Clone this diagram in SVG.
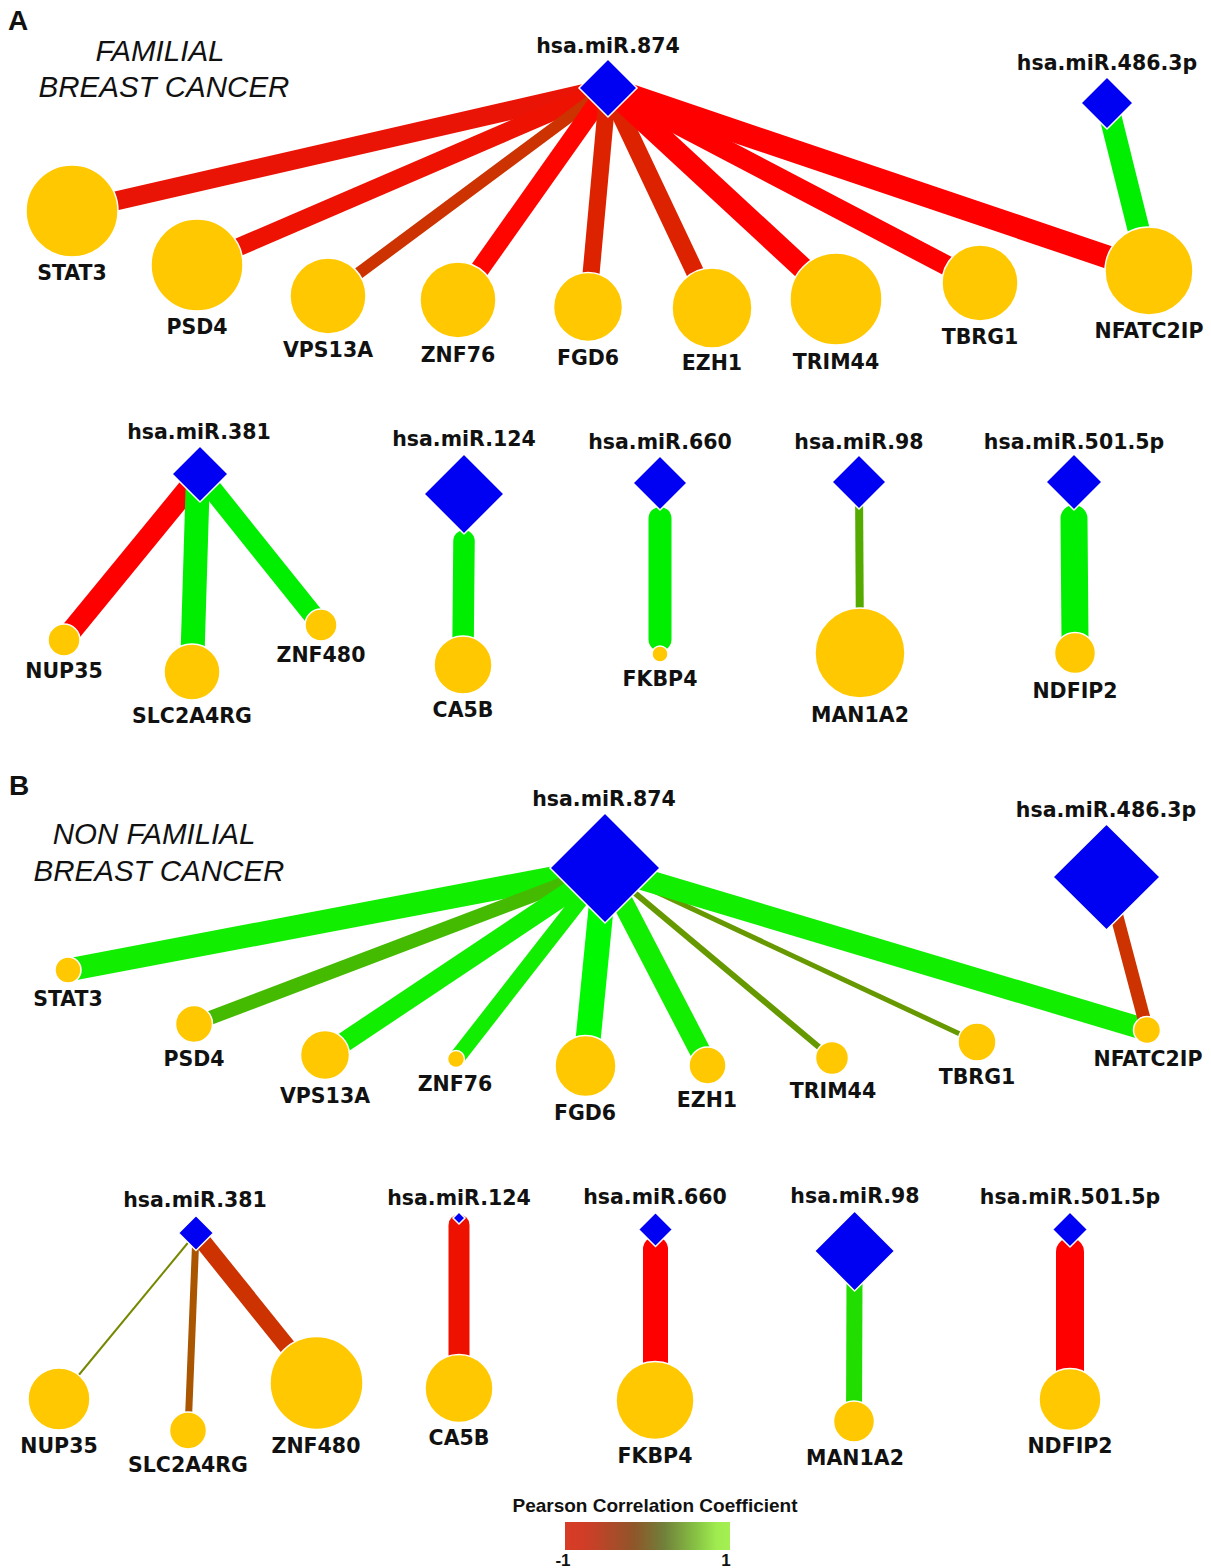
<svg xmlns="http://www.w3.org/2000/svg" width="1211" height="1568" viewBox="0 0 1211 1568">
<defs>
<style>
.lbl{font-family:"DejaVu Sans","Liberation Sans",sans-serif;font-weight:bold;font-size:20.5px;text-anchor:middle;fill:#111}
.ttl{font-family:"Liberation Sans",Arial,sans-serif;font-style:italic;font-size:29.5px;text-anchor:middle;fill:#111}
.pnl{font-family:"Liberation Sans",Arial,sans-serif;font-weight:bold;font-size:28px;fill:#111}
.leg{font-family:"Liberation Sans",Arial,sans-serif;font-weight:bold;font-size:19px;text-anchor:middle;fill:#111}
.mir{fill:#0000f2;stroke:#fff;stroke-width:1.5}
.gene{fill:#ffc800;stroke:#fff;stroke-width:1.5}
.e{fill:none;stroke-linecap:butt}
.r{stroke-linecap:round}
</style>
<linearGradient id="pcc" x1="0" y1="0" x2="1" y2="0">
<stop offset="0" stop-color="#d83c26"/>
<stop offset="0.12" stop-color="#d03d27"/>
<stop offset="0.42" stop-color="#8e562a"/>
<stop offset="0.6" stop-color="#70803a"/>
<stop offset="0.8" stop-color="#88c444"/>
<stop offset="0.92" stop-color="#a0ec50"/>
<stop offset="1" stop-color="#a4f052"/>
</linearGradient>
</defs>
<rect width="1211" height="1568" fill="#fff"/>

<!-- titles -->
<text class="pnl" x="8" y="30">A</text>
<text class="ttl" x="160" y="61">FAMILIAL</text>
<text class="ttl" x="164" y="97">BREAST CANCER</text>
<text class="pnl" x="9" y="795">B</text>
<text class="ttl" x="154" y="844">NON FAMILIAL</text>
<text class="ttl" x="159" y="881">BREAST CANCER</text>

<g id="connectors">
<!-- Panel A top -->
<line class="e" x1="608" y1="88" x2="72" y2="211" stroke="#ea1406" stroke-width="19"/>
<line class="e" x1="608" y1="88" x2="197" y2="265" stroke="#ee1202" stroke-width="18"/>
<line class="e" x1="608" y1="88" x2="328" y2="296" stroke="#cc3300" stroke-width="12"/>
<line class="e" x1="608" y1="88" x2="458" y2="300" stroke="#ff0500" stroke-width="19"/>
<line class="e" x1="608" y1="88" x2="588" y2="307" stroke="#dd2200" stroke-width="17"/>
<line class="e" x1="608" y1="88" x2="712" y2="308" stroke="#dd2200" stroke-width="18"/>
<line class="e" x1="608" y1="88" x2="836" y2="299" stroke="#ff0000" stroke-width="22"/>
<line class="e" x1="608" y1="88" x2="980" y2="283" stroke="#ff0000" stroke-width="20"/>
<line class="e" x1="608" y1="88" x2="1149" y2="271" stroke="#ff0000" stroke-width="23"/>
<line class="e" x1="1107" y1="103" x2="1149" y2="271" stroke="#00ee00" stroke-width="22"/>
<!-- Panel A bottom -->
<line class="e" x1="200" y1="474" x2="64" y2="640" stroke="#ff0000" stroke-width="21"/>
<line class="e" x1="198" y1="474" x2="192" y2="672" stroke="#00ee00" stroke-width="24"/>
<line class="e" x1="200" y1="474" x2="321" y2="625" stroke="#00ee00" stroke-width="20"/>
<line class="e r" x1="464" y1="541" x2="463" y2="650" stroke="#00ee00" stroke-width="21.5"/>
<line class="e r" x1="660" y1="518.5" x2="660" y2="639.5" stroke="#00ee00" stroke-width="23"/>
<line class="e" x1="859" y1="482" x2="860" y2="653" stroke="#55aa00" stroke-width="8"/>
<line class="e r" x1="1074" y1="518.5" x2="1075" y2="640" stroke="#00ee00" stroke-width="27"/>
<!-- Panel B top -->
<line class="e" x1="605" y1="868" x2="68" y2="970" stroke="#11ee00" stroke-width="23"/>
<line class="e" x1="605" y1="868" x2="194" y2="1024" stroke="#44bb00" stroke-width="14"/>
<line class="e" x1="605" y1="868" x2="325" y2="1055" stroke="#11ee00" stroke-width="20"/>
<line class="e" x1="605" y1="868" x2="456" y2="1059" stroke="#11ee00" stroke-width="16"/>
<line class="e" x1="605" y1="868" x2="585.5" y2="1066" stroke="#00f800" stroke-width="25"/>
<line class="e" x1="605" y1="868" x2="707.5" y2="1065.5" stroke="#11ee00" stroke-width="21"/>
<line class="e" x1="605" y1="868" x2="832" y2="1058" stroke="#669900" stroke-width="6"/>
<line class="e" x1="605" y1="868" x2="977" y2="1042" stroke="#669900" stroke-width="5"/>
<line class="e" x1="605" y1="868" x2="1147" y2="1030" stroke="#11ee00" stroke-width="22"/>
<line class="e" x1="1106.5" y1="877" x2="1147" y2="1030" stroke="#cc3300" stroke-width="13"/>
<!-- Panel B bottom -->
<line class="e" x1="196" y1="1233" x2="59" y2="1399" stroke="#778800" stroke-width="2"/>
<line class="e" x1="196" y1="1233" x2="188" y2="1430.5" stroke="#aa5500" stroke-width="7"/>
<line class="e" x1="196" y1="1233" x2="316.5" y2="1383" stroke="#cc3300" stroke-width="17"/>
<line class="e r" x1="459" y1="1225" x2="459" y2="1370" stroke="#ee1100" stroke-width="21"/>
<line class="e r" x1="655.5" y1="1249" x2="655.5" y2="1380" stroke="#ff0000" stroke-width="25"/>
<line class="e" x1="854.6" y1="1251" x2="854" y2="1421.5" stroke="#22dd00" stroke-width="16"/>
<line class="e r" x1="1070" y1="1252" x2="1070" y2="1390" stroke="#ff0000" stroke-width="28"/>
</g>

<!-- Panel A top nodes -->
<g id="A_miR874"><polygon class="mir" points="608,59 637,88 608,117 579,88"/><text class="lbl" x="608" y="53">hsa.miR.874</text></g>
<g id="A_miR486"><polygon class="mir" points="1107,77 1133,103 1107,129 1081,103"/><text class="lbl" x="1107" y="70">hsa.miR.486.3p</text></g>
<g id="A_STAT3"><circle class="gene" cx="72" cy="211" r="46"/><text class="lbl" x="72" y="280">STAT3</text></g>
<g id="A_PSD4"><circle class="gene" cx="197" cy="265" r="46"/><text class="lbl" x="197" y="334">PSD4</text></g>
<g id="A_VPS13A"><circle class="gene" cx="328" cy="296" r="38"/><text class="lbl" x="328" y="357">VPS13A</text></g>
<g id="A_ZNF76"><circle class="gene" cx="458" cy="300" r="38"/><text class="lbl" x="458" y="362">ZNF76</text></g>
<g id="A_FGD6"><circle class="gene" cx="588" cy="307" r="34.5"/><text class="lbl" x="588" y="365">FGD6</text></g>
<g id="A_EZH1"><circle class="gene" cx="712" cy="308" r="40"/><text class="lbl" x="712" y="370">EZH1</text></g>
<g id="A_TRIM44"><circle class="gene" cx="836" cy="299" r="46"/><text class="lbl" x="836" y="369">TRIM44</text></g>
<g id="A_TBRG1"><circle class="gene" cx="980" cy="283" r="38"/><text class="lbl" x="980" y="344">TBRG1</text></g>
<g id="A_NFATC2IP"><circle class="gene" cx="1149" cy="271" r="44"/><text class="lbl" x="1149" y="338">NFATC2IP</text></g>

<!-- Panel A bottom nodes -->
<g id="A_miR381"><polygon class="mir" points="200,446 228,474 200,502 172,474"/><text class="lbl" x="199" y="439">hsa.miR.381</text></g>
<g id="A_NUP35"><circle class="gene" cx="64" cy="640" r="16"/><text class="lbl" x="64" y="678">NUP35</text></g>
<g id="A_SLC2A4RG"><circle class="gene" cx="192" cy="672" r="28"/><text class="lbl" x="192" y="723">SLC2A4RG</text></g>
<g id="A_ZNF480"><circle class="gene" cx="321" cy="625" r="16"/><text class="lbl" x="321" y="662">ZNF480</text></g>
<g id="A_miR124"><polygon class="mir" points="464,454 504,494 464,534 424,494"/><text class="lbl" x="464" y="446">hsa.miR.124</text></g>
<g id="A_CA5B"><circle class="gene" cx="463" cy="665" r="29"/><text class="lbl" x="463" y="717">CA5B</text></g>
<g id="A_miR660"><polygon class="mir" points="660,456 687,483 660,510 633,483"/><text class="lbl" x="660" y="449">hsa.miR.660</text></g>
<g id="A_FKBP4"><circle class="gene" cx="660" cy="654" r="8"/><text class="lbl" x="660" y="686">FKBP4</text></g>
<g id="A_miR98"><polygon class="mir" points="859,455 886,482 859,509 832,482"/><text class="lbl" x="859" y="449">hsa.miR.98</text></g>
<g id="A_MAN1A2"><circle class="gene" cx="860" cy="653" r="45"/><text class="lbl" x="860" y="722">MAN1A2</text></g>
<g id="A_miR501"><polygon class="mir" points="1074,454 1102,482 1074,510 1046,482"/><text class="lbl" x="1074" y="449">hsa.miR.501.5p</text></g>
<g id="A_NDFIP2"><circle class="gene" cx="1075" cy="653" r="20.5"/><text class="lbl" x="1075" y="698">NDFIP2</text></g>

<!-- Panel B top nodes -->
<g id="B_miR874"><polygon class="mir" points="605,813 660,868 605,923 550,868"/><text class="lbl" x="604" y="806">hsa.miR.874</text></g>
<g id="B_miR486"><polygon class="mir" points="1106.5,824 1160,877 1106.5,930 1053,877"/><text class="lbl" x="1106" y="817">hsa.miR.486.3p</text></g>
<g id="B_STAT3"><circle class="gene" cx="68" cy="970" r="13"/><text class="lbl" x="68" y="1006">STAT3</text></g>
<g id="B_PSD4"><circle class="gene" cx="194" cy="1024" r="18.5"/><text class="lbl" x="194" y="1066">PSD4</text></g>
<g id="B_VPS13A"><circle class="gene" cx="325" cy="1055" r="24.5"/><text class="lbl" x="325" y="1103">VPS13A</text></g>
<g id="B_ZNF76"><circle class="gene" cx="456" cy="1059" r="8.5"/><text class="lbl" x="455" y="1091">ZNF76</text></g>
<g id="B_FGD6"><circle class="gene" cx="585.5" cy="1066" r="30.5"/><text class="lbl" x="585" y="1120">FGD6</text></g>
<g id="B_EZH1"><circle class="gene" cx="707.5" cy="1065.5" r="18.5"/><text class="lbl" x="707" y="1107">EZH1</text></g>
<g id="B_TRIM44"><circle class="gene" cx="832" cy="1058" r="16.5"/><text class="lbl" x="833" y="1098">TRIM44</text></g>
<g id="B_TBRG1"><circle class="gene" cx="977" cy="1042" r="19"/><text class="lbl" x="977" y="1084">TBRG1</text></g>
<g id="B_NFATC2IP"><circle class="gene" cx="1147" cy="1030" r="13.5"/><text class="lbl" x="1148" y="1066">NFATC2IP</text></g>

<!-- Panel B bottom nodes -->
<g id="B_miR381"><polygon class="mir" points="196,1215.5 213.5,1233 196,1250.5 178.5,1233"/><text class="lbl" x="195" y="1207">hsa.miR.381</text></g>
<g id="B_NUP35"><circle class="gene" cx="59" cy="1399" r="31"/><text class="lbl" x="59" y="1453">NUP35</text></g>
<g id="B_SLC2A4RG"><circle class="gene" cx="188" cy="1430.5" r="18.5"/><text class="lbl" x="188" y="1472">SLC2A4RG</text></g>
<g id="B_ZNF480"><circle class="gene" cx="316.5" cy="1383" r="46.5"/><text class="lbl" x="316" y="1453">ZNF480</text></g>
<g id="B_miR124"><polygon class="mir" points="459,1212 465,1218 459,1224 453,1218"/><text class="lbl" x="459" y="1205">hsa.miR.124</text></g>
<g id="B_CA5B"><circle class="gene" cx="459" cy="1388.5" r="34"/><text class="lbl" x="459" y="1445">CA5B</text></g>
<g id="B_miR660"><polygon class="mir" points="655.5,1212.5 672.5,1229.5 655.5,1246.5 638.5,1229.5"/><text class="lbl" x="655" y="1204">hsa.miR.660</text></g>
<g id="B_FKBP4"><circle class="gene" cx="655" cy="1400.5" r="39"/><text class="lbl" x="655" y="1463">FKBP4</text></g>
<g id="B_miR98"><polygon class="mir" points="854.6,1211 894.6,1251 854.6,1291 814.6,1251"/><text class="lbl" x="855" y="1203">hsa.miR.98</text></g>
<g id="B_MAN1A2"><circle class="gene" cx="854" cy="1421.5" r="20.5"/><text class="lbl" x="855" y="1465">MAN1A2</text></g>
<g id="B_miR501"><polygon class="mir" points="1070,1212 1087.5,1229.5 1070,1247 1052.5,1229.5"/><text class="lbl" x="1070" y="1204">hsa.miR.501.5p</text></g>
<g id="B_NDFIP2"><circle class="gene" cx="1070" cy="1399.5" r="31"/><text class="lbl" x="1070" y="1453">NDFIP2</text></g>

<!-- legend -->
<g id="legend">
<text class="leg" x="655" y="1512">Pearson Correlation Coefficient</text>
<rect x="565" y="1522" width="165" height="28" fill="url(#pcc)"/>
<text class="leg" x="563" y="1566" style="font-size:17px">-1</text>
<text class="leg" x="726" y="1566" style="font-size:17px">1</text>
</g>
</svg>
